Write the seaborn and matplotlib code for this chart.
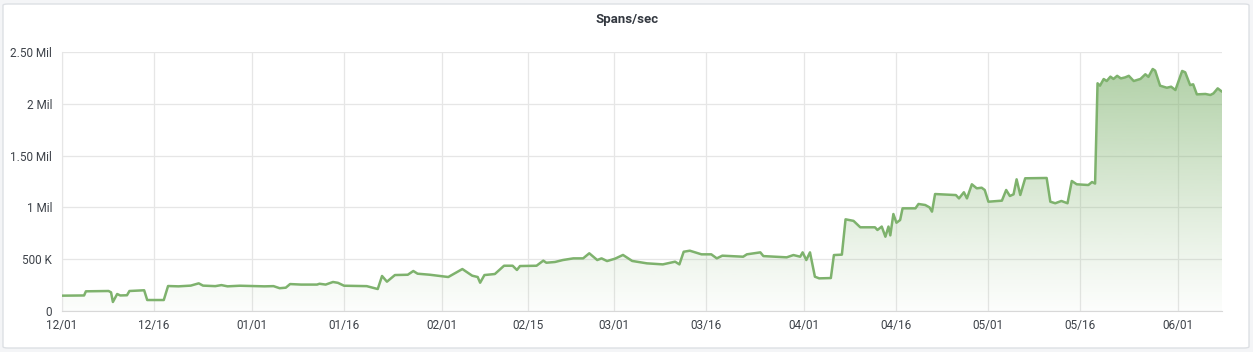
import numpy as np
import pandas as pd
import seaborn as sns
import matplotlib.pyplot as plt
from matplotlib.patches import FancyBboxPatch

# days since 2018-12-01 and spans/sec (thousands)
day_offset = [
    0, 3.6, 3.9, 7.6, 8.0, 8.3, 9.0, 9.5, 10.6, 11.0, 13.4, 13.9, 16.6, 17.3,
    19, 21, 22.3, 23, 25, 26, 27, 29, 30.7, 33, 34.5, 35.5, 36.5, 37.2, 39,
    41.6, 42, 43, 44.2, 45, 46, 49.7, 51.5, 52.2, 53, 54.3, 56.4, 57.3, 58,
    60, 61.7, 63, 65.3, 66.9, 67.8, 68.2, 68.9, 70.6, 72.1, 73.5, 74.2, 74.7,
    77.4, 78.5, 79, 80.4, 81.7, 83.4, 85, 86, 87.3, 88, 88.9, 90.2, 91.5, 93,
    95.4, 98, 100, 100.7, 101.4, 102.4, 104.3, 105.9, 106.8, 107.7, 111.1,
    111.7, 113.9, 114.4, 118.2, 119.3, 120.4, 120.8, 121.4, 122.0, 122.8,
    123.5, 125.4, 125.9, 127.2, 127.8, 129.1, 130.2, 132.6, 133.0, 133.7,
    134.3, 134.8, 135.1, 135.6, 136.1, 136.7, 137.1, 139.2, 139.7, 140.8,
    141.5, 141.9, 142.4, 145.8, 146.3, 147.1, 147.6, 148.4, 149.2, 150.0,
    150.5, 151.1, 153.3, 154.0, 154.6, 155.2, 155.7, 156.3, 157.1, 160.6,
    161.2, 162, 163, 164, 164.7, 165.5, 167.4, 168.0, 168.5, 168.9, 169.3,
    169.9, 170.4, 171.0, 171.5, 172.1, 172.7, 173.4, 174.0, 174.8, 175.9,
    176.7, 177.2, 177.9, 178.3, 179.1, 180.2, 180.9, 181.6, 182.7, 183.2,
    184.0, 184.5, 185.1, 186.5, 187.3, 187.8, 188.5, 189.2,
]
spans_k = [
    148, 150, 190, 193, 180, 87, 164, 150, 152, 193, 200, 106, 106, 241,
    238, 245, 267, 245, 240, 250, 238, 244, 241, 238, 240, 220, 225, 260, 255,
    255, 263, 255, 280, 272, 244, 240, 212, 338, 283, 347, 350, 386, 360,
    350, 338, 328, 405, 341, 328, 273, 347, 357, 437, 437, 396, 434,
    437, 486, 466, 473, 492, 508, 508, 557, 492, 508, 482, 505, 541, 483,
    460, 450, 476, 450, 572, 582, 547, 547, 508, 534, 524,
    547, 566, 530, 518, 540, 524, 566, 492, 566, 331,
    315, 318, 540, 544, 885, 870, 808, 808, 782, 815,
    717, 815, 730, 936, 852, 878, 991, 991, 1033, 1023,
    1000, 959, 1129, 1119, 1087, 1146, 1087, 1223, 1184, 1190,
    1168, 1055, 1065, 1168, 1110, 1126, 1271, 1120, 1281, 1284,
    1055, 1040, 1062, 1040, 1255, 1223, 1216, 1245, 1230, 2198, 2175,
    2239, 2220, 2262, 2240, 2270, 2245, 2255, 2270, 2220, 2240,
    2285, 2260, 2336, 2320, 2175, 2155, 2165, 2133, 2317, 2304,
    2181, 2188, 2091, 2095, 2085, 2100, 2149, 2117,
]

y_ticks = [0, 500e3, 1e6, 1.5e6, 2e6, 2.5e6]
y_labels = ["0", "500 K", "1 Mil", "1.50 Mil", "2 Mil", "2.50 Mil"]
x_ticks = ["2018-12-01", "2018-12-16", "2019-01-01", "2019-01-16", "2019-02-01",
           "2019-02-15", "2019-03-01", "2019-03-16", "2019-04-01", "2019-04-16",
           "2019-05-01", "2019-05-16", "2019-06-01"]
x_labels = ["12/01", "12/16", "01/01", "01/16", "02/01", "02/15", "03/01",
            "03/16", "04/01", "04/16", "05/01", "05/16", "06/01"]

start = pd.Timestamp("2018-12-01")
df = pd.DataFrame({
    "time": start + pd.to_timedelta(day_offset, unit="D"),
    "spans": np.array(spans_k) * 1000.0,
})

sns.set_style("white")
plt.rcParams["font.family"] = ["Roboto", "DejaVu Sans"]

green = "#7eb26d"
grid_c = "#e6e6e6"
text_c = "#3d4249"

fig = plt.figure(figsize=(12.53, 3.52), dpi=100)
fig.patch.set_facecolor("#f4f5f7")
fig.patches.append(FancyBboxPatch((3 / 1253, 4 / 352), 1246 / 1253, 344 / 352,
                                  boxstyle="round,pad=0,rounding_size=0.004",
                                  transform=fig.transFigure, facecolor="white",
                                  edgecolor="#dde0e4", linewidth=1, zorder=-5))

ax = fig.add_axes([62 / 1253, 41 / 352, 1160 / 1253, 259 / 352])
ax.set_facecolor("none")

# gradient fill under the line, clipped to the area
x_num = plt.matplotlib.dates.date2num(df["time"])
poly = ax.fill_between(x_num, 0, df["spans"], color="none", linewidth=0)
xlim = (x_num[0], x_num[-1])
grad = np.linspace(0, 1, 256).reshape(-1, 1)
rgba = np.zeros((256, 1, 4))
rgba[..., :3] = plt.matplotlib.colors.to_rgb(green)
rgba[..., 3] = 0.02 + 0.62 * grad[..., 0:1] ** 1.1
img = ax.imshow(rgba, origin="lower", aspect="auto",
                extent=[xlim[0], xlim[1], 0, 2.5e6], zorder=1)
img.set_clip_path(poly.get_paths()[0], transform=ax.transData)

sns.lineplot(data=df, x="time", y="spans", ax=ax, color=green, linewidth=1.8,
             zorder=3)

ax.set_xlim(df["time"].iloc[0], df["time"].iloc[-1])
ax.set_ylim(0, 2.5e6)
ax.set_yticks(y_ticks, y_labels)
ax.set_xticks(pd.to_datetime(x_ticks), x_labels)
ax.grid(True, color=grid_c, linewidth=0.9, zorder=0)
ax.set_axisbelow(True)
for side in ["top", "right"]:
    ax.spines[side].set_visible(False)
ax.spines["left"].set_color(grid_c)
ax.spines["bottom"].set_color("#d8d8d8")
ax.tick_params(axis="y", length=3, color=grid_c, pad=4, labelsize=8.5,
               labelcolor=text_c)
ax.tick_params(axis="x", length=0, pad=6, labelsize=8.5, labelcolor=text_c)
ax.set_xlabel("")
ax.set_ylabel("")

fig.text(627 / 1253, 1 - 19 / 352, "Spans/sec", ha="center", va="center",
         fontsize=9.5, fontweight="bold", color="#333840")

fig.savefig("out.png", dpi=100, facecolor=fig.get_facecolor())
